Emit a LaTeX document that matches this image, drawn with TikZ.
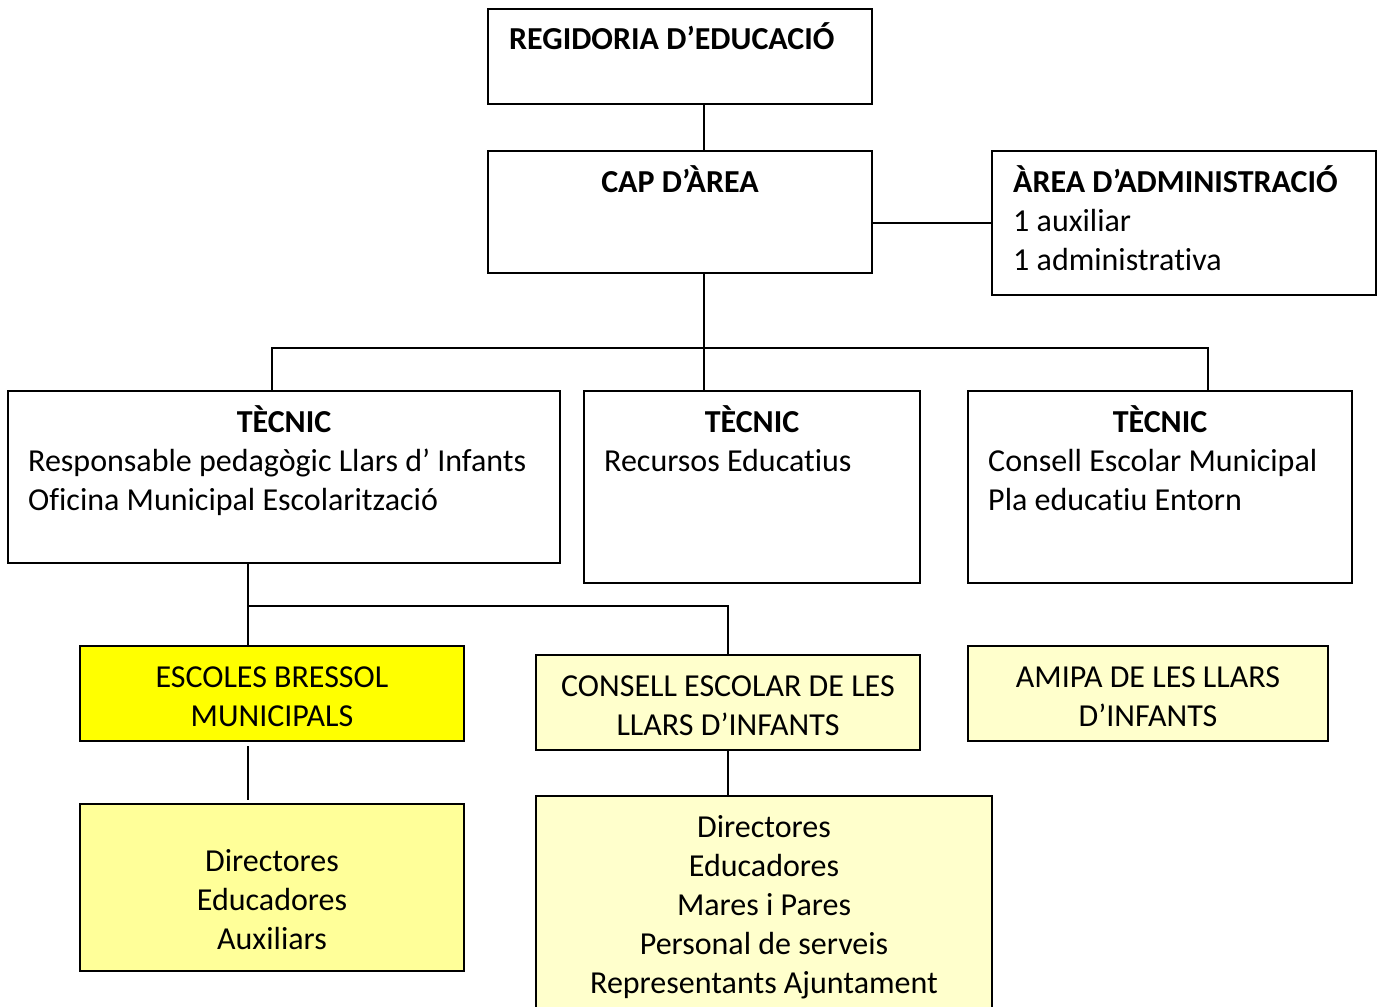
\documentclass[tikz,border=0pt]{standalone}
\usepackage{fontspec}
\setmainfont{Carlito}[Ligatures={NoCommon}]
\begin{document}
\begin{tikzpicture}[x=1pt,y=-1pt,
  box/.style={draw=black, line width=2pt, anchor=north west, inner sep=0pt, outer sep=0pt},
  txt/.style={inner sep=0pt, font=\fontsize{32}{39}\selectfont, align=left},
  ctxt/.style={inner sep=0pt, font=\fontsize{32}{39}\selectfont, align=center},
  conn/.style={line width=2pt}]
\useasboundingbox (0,0) rectangle (1380,1006);
\fill[white] (0,0) rectangle (1380,1006);
% boxes
\node[box, minimum width=384, minimum height=95] (reg) at (488,9) {};
\node[box, minimum width=384, minimum height=122] (cap) at (488,151) {};
\node[box, minimum width=384, minimum height=144] (adm) at (992,151) {};
\node[box, minimum width=552, minimum height=172] (tl) at (8,391) {};
\node[box, minimum width=336, minimum height=192] (tm) at (584,391) {};
\node[box, minimum width=384, minimum height=192] (tr) at (968,391) {};
\node[box, fill={rgb,255:red,255;green,255;blue,0}, minimum width=384, minimum height=95] (eb) at (80,646) {};
\node[box, fill={rgb,255:red,255;green,255;blue,204}, minimum width=384, minimum height=95] (ce) at (536,655) {};
\node[box, fill={rgb,255:red,255;green,255;blue,204}, minimum width=360, minimum height=95] (am) at (968,646) {};
\node[box, fill={rgb,255:red,255;green,255;blue,153}, minimum width=384, minimum height=167] (dl) at (80,804) {};
\node[box, fill={rgb,255:red,255;green,255;blue,204}, minimum width=456, minimum height=230] (dm) at (536,796) {};
% texts (anchor base = baseline of last line)
\node[txt, anchor=base west] (treg) at (509,50) {\textbf{REGIDORIA D’EDUCACIÓ}};
\node[ctxt, anchor=base] (tcap) at (680,192) {\textbf{CAP D’ÀREA}};
\node[txt, anchor=base west] (tadm) at (1013,270) {\textbf{ÀREA D’ADMINISTRACIÓ}\\1 auxiliar\\1 administrativa};
\node[ctxt, anchor=base] (ttl) at (284,432) {\textbf{TÈCNIC}};
\node[txt, anchor=base west] (ttl2) at (28,510) {Responsable pedagògic Llars d’ Infants\\Oficina Municipal Escolarització};
\node[ctxt, anchor=base] (ttm) at (752,432) {\textbf{TÈCNIC}};
\node[txt, anchor=base west] (ttm2) at (604,471) {Recursos Educatius};
\node[ctxt, anchor=base] (ttr) at (1160,432) {\textbf{TÈCNIC}};
\node[txt, anchor=base west] (ttr2) at (988,510) {Consell Escolar Municipal\\Pla educatiu Entorn};
\node[ctxt, anchor=base] (teb) at (272,726) {ESCOLES BRESSOL\\MUNICIPALS};
\node[ctxt, anchor=base] (tce) at (728,735) {CONSELL ESCOLAR DE LES\\LLARS D’INFANTS};
\node[ctxt, anchor=base] (tam) at (1148,726) {AMIPA DE LES LLARS\\D’INFANTS};
\node[ctxt, anchor=base] (tdl) at (272,949) {Directores\\Educadores\\Auxiliars};
\node[ctxt, anchor=base] (tdm) at (764,993) {Directores\\Educadores\\Mares i Pares\\Personal de serveis\\Representants Ajuntament};
% connectors
\coordinate (top) at (704,120);
\draw[conn] (reg.south -| top) -- (cap.north -| top);
\draw[conn] (adm.west) -- (adm.west -| cap.east);
\coordinate (bus) at (704,348);
\coordinate (bl) at (272,348);
\coordinate (br) at (1208,348);
\draw[conn] (cap.south -| bus) -- (tm.north -| bus);
\draw[conn] (tl.north -| bl) -- (bl) -- (br) -- (tr.north -| br);
\coordinate (b2l) at (248,606);
\coordinate (b2r) at (728,606);
\draw[conn] (tl.south -| b2l) -- (eb.north -| b2l);
\draw[conn] (b2l) -- (b2r) -- (ce.north -| b2r);
\draw[conn, shorten <=5pt, shorten >=4pt] (eb.south -| b2l) -- (dl.north -| b2l);
\draw[conn] (ce.south -| b2r) -- (dm.north -| b2r);
\end{tikzpicture}
\end{document}
